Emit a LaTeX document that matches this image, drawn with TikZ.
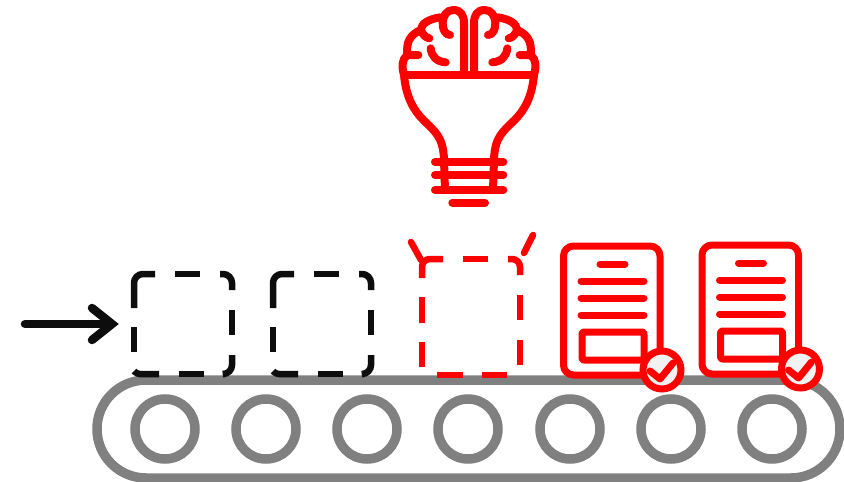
\documentclass[tikz,border=0pt]{standalone}
\definecolor{belt}{HTML}{808080}
\definecolor{ink}{HTML}{0D0D0D}
\definecolor{brand}{HTML}{FF0000}
\definecolor{badge}{HTML}{F2F2F2}
\tikzset{
  beltline/.style={draw=belt,line width=9.5pt},
  inkdash/.style={draw=ink,line width=6.5pt,rounded corners=9pt},
  reddash/.style={draw=brand,line width=6.5pt,rounded corners=8pt},
  redline/.style={draw=brand,line width=7pt,line cap=round,line join=round},
  bulbline/.style={draw=brand,line width=8pt,line cap=round,line join=round},
  pics/emptybox/.style={code={
    \draw[inkdash] (134,308) -- (134,274) -- (155,274);
    \draw[inkdash] (175,274) -- (200,274);
    \draw[inkdash] (220,274) -- (232,274) -- (232,290);
    \draw[inkdash] (232,310) -- (232,335);
    \draw[inkdash] (232,355) -- (232,374) -- (225,374);
    \draw[inkdash] (204,374) -- (179,374);
    \draw[inkdash,rounded corners=3pt] (159,374) -- (137,374) -- (134,371);
    \draw[inkdash] (134,327) -- (134,352);
  }},
  pics/document/.style={code={
    \draw[redline,rounded corners=10pt,fill=white] (563.5,246) rectangle (660,375);
    \draw[redline] (600,264) -- (625,264);
    \draw[redline] (581,281) -- (644,281);
    \draw[redline] (581,298) -- (644,298);
    \draw[redline] (581,315) -- (644,315);
    \draw[redline,rounded corners=2pt] (582,332) rectangle (644,360);
    \draw[draw=brand,line width=7pt,fill=badge] (662,370) circle[radius=19];
    \draw[redline] (650,371) -- (660,379) -- (673,363);
  }},
  pics/hemisphere/.style={code={
    \draw[bulbline] (180,105) .. controls (150,105) and (148,30) .. (190,30)
       .. controls (212,30) and (222,45) .. (222,70) -- (222,225);
    \draw[bulbline] (150,52) .. controls (115,58) and (95,70) .. (92,90)
       .. controls (100,105) and (105,112) .. (118,115);
    \draw[bulbline] (92,90) .. controls (60,105) and (48,125) .. (52,165)
       -- (85,165);
    \draw[bulbline] (52,165) .. controls (35,178) and (35,200) .. (42,225);
    \draw[bulbline] (122,145) .. controls (125,170) and (140,185) .. (167,187);
    \draw[bulbline] (42,225) .. controls (48,290) and (70,330) .. (100,360)
       .. controls (135,395) and (160,410) .. (162,480) -- (165,570);
  }}
}
\begin{document}
\begin{tikzpicture}[x=1pt,y=-1pt]
\useasboundingbox (0,0) rectangle (844,482);
\clip (0,0) rectangle (844,482);
% conveyor
\draw[beltline,rounded corners=49pt] (97,380) rectangle (840,478);
\foreach \cx in {165,266,367,468,570,671,772}
  \draw[beltline] (\cx,429) circle[radius=30];
% input arrow
\draw[draw=ink,line width=8.5pt,line cap=round,line join=round] (25,324) -- (111,324);
\draw[draw=ink,line width=8.5pt,line cap=round,line join=miter] (92,308) -- (112,324) -- (92,340);
% empty boxes
\pic at (0,0) {emptybox};
\pic at (139,0) {emptybox};
% box being filled
\draw[reddash] (422,278) -- (422,259) -- (443,259);
\draw[reddash] (463,259) -- (488,259);
\draw[reddash] (508,259) -- (520,259) -- (520,275);
\draw[reddash] (520,295) -- (520,320);
\draw[reddash] (520,340) -- (520,365);
\draw[reddash] (507,375) -- (482,375);
\draw[reddash] (463,375) -- (437,375);
\draw[reddash] (422,367) -- (422,342);
\draw[reddash] (422,323) -- (422,297);
\draw[reddash,line cap=round] (411,242) -- (421,260);
\draw[reddash,line cap=round] (533,235) -- (524,253);
% finished documents
\pic at (0,0) {document};
\pic at (138.5,-1) {document};
% brain bulb
\begin{scope}[shift={(390,0)},x=0.33333pt,y=-0.33333pt]
  \pic at (0,0) {hemisphere};
  \begin{scope}[shift={(474,0)},xscale=-1]
    \pic[transform shape] at (0,0) {hemisphere};
  \end{scope}
  \draw[bulbline] (42,225) -- (432,225);
  \draw[bulbline] (135,486) -- (340,486);
  \draw[bulbline] (135,525) -- (340,525);
  \draw[bulbline] (135,570) -- (340,570);
  \draw[bulbline] (187,608) -- (285,608);
\end{scope}
\end{tikzpicture}
\end{document}
